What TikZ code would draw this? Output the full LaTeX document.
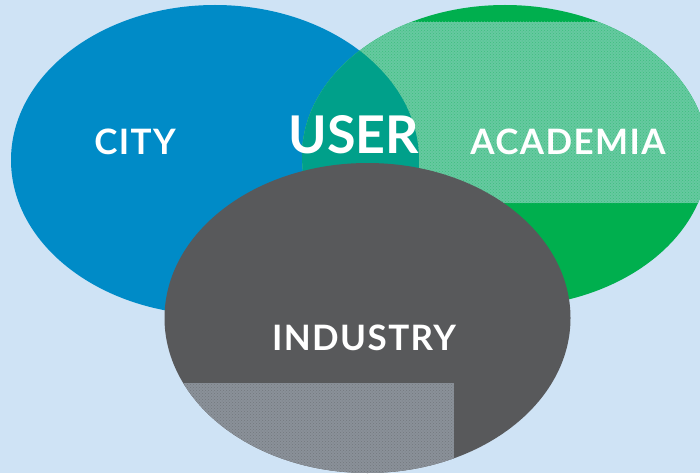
\documentclass[tikz,border=0pt]{standalone}
\usepackage{fontspec}
\setmainfont{Lato}
\usetikzlibrary{patterns}

\definecolor{paleblue}{HTML}{CFE3F5}
\definecolor{cityblue}{HTML}{008BC7}
\definecolor{acadgreen}{HTML}{00AF4E}
\definecolor{bandgreen}{HTML}{66C9A0}
\definecolor{userteal}{HTML}{00A08A}
\definecolor{indgrey}{HTML}{58595B}
\definecolor{dotgrey}{HTML}{8A9199}

\begin{document}
\begin{tikzpicture}[x=1pt, y=-1pt,
	sector/.style={text=white, font=\bfseries\fontsize{35}{40}\selectfont\addfontfeatures{LetterSpace=4}},
	bigsector/.style={text=white, font=\bfseries\fontsize{52}{60}\selectfont}]
	\fill[paleblue] (0,0) rectangle (700,473);
	\clip (0,0) rectangle (700,473);
	% city
	\fill[cityblue] (215,160) ellipse (204 and 155);
	% academia, with the lighter band and the overlap
	\fill[acadgreen] (505,156) ellipse (203 and 151);
	\begin{scope}
		\clip (505,156) ellipse (203 and 151);
		\fill[bandgreen] (280,22) rectangle (720,203);
		\fill[pattern=crosshatch dots, pattern color=acadgreen!40!bandgreen] (280,22) rectangle (720,203);
		\clip (215,160) ellipse (204 and 155);
		\fill[userteal] (280,0) rectangle (720,473);
	\end{scope}
	% industry
	\fill[indgrey] (367.5,318) ellipse (203 and 155);
	\begin{scope}
		\clip (367.5,318) ellipse (203 and 155);
		\fill[dotgrey] (150,383) rectangle (454,480);
		\fill[pattern=crosshatch dots, pattern color=indgrey!45!dotgrey] (150,383) rectangle (454,480);
	\end{scope}
	\node[sector] (city) at (135,142) {CITY};
	\node[bigsector] (user) at (354,135) {USER};
	\node[sector] (academia) at (568,142) {ACADEMIA};
	\node[sector] (industry) at (364,338) {INDUSTRY};
\end{tikzpicture}
\end{document}
